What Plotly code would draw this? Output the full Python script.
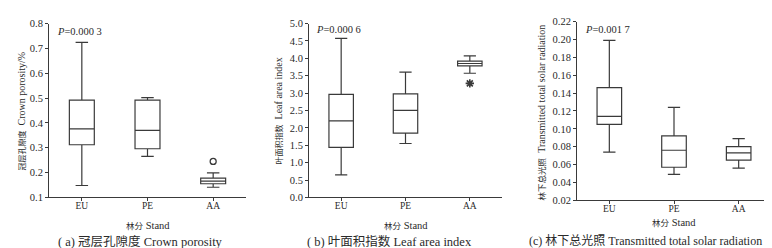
import plotly.graph_objects as go

W, H = 772, 248

stands = ["EU", "PE", "AA"]

# (a) crown porosity
cp_low = [0.148, 0.265, 0.141]
cp_q1 = [0.312, 0.296, 0.155]
cp_med = [0.376, 0.370, 0.166]
cp_q3 = [0.492, 0.492, 0.178]
cp_high = [0.724, 0.502, 0.199]
cp_out_x = ["AA"]
cp_out_y = [0.245]

# (b) leaf area index
lai_low = [0.65, 1.55, 3.57]
lai_q1 = [1.44, 1.85, 3.78]
lai_med = [2.20, 2.50, 3.85]
lai_q3 = [2.96, 2.98, 3.92]
lai_high = [4.57, 3.60, 4.07]
lai_out_x = ["AA"]
lai_out_y = [3.28]

# (c) transmitted total solar radiation
ts_low = [0.074, 0.049, 0.056]
ts_q1 = [0.105, 0.057, 0.065]
ts_med = [0.114, 0.076, 0.073]
ts_q3 = [0.146, 0.092, 0.080]
ts_high = [0.199, 0.124, 0.089]

FONT = "Liberation Serif, Noto Sans CJK SC, serif"
LINE = "#3a3a3a"
TXT = "#2a2a2a"

fig = go.Figure()


def px_x(p):
    return p / W


def px_y(p):
    return 1 - p / H


panels = [
    dict(n="", low=cp_low, q1=cp_q1, med=cp_med, q3=cp_q3, high=cp_high,
         x0=41, x1=238, ytop=11, ybot=193, rng=[0.1, 0.8], dtick=0.1, fmt=".1f"),
    dict(n="2", low=lai_low, q1=lai_q1, med=lai_med, q3=lai_q3, high=lai_high,
         x0=301, x1=494, ytop=11, ybot=193, rng=[0.0, 5.0], dtick=0.5, fmt=".1f"),
    dict(n="3", low=ts_low, q1=ts_q1, med=ts_med, q3=ts_q3, high=ts_high,
         x0=569, x1=763, ytop=9, ybot=196, rng=[0.02, 0.22], dtick=0.02, fmt=".2f"),
]

for p in panels:
    fig.add_trace(go.Box(
        x=stands, q1=p["q1"], median=p["med"], q3=p["q3"],
        lowerfence=p["low"], upperfence=p["high"],
        boxpoints=False, width=0.38, whiskerwidth=0.5,
        fillcolor="white", line=dict(color=LINE, width=1.2),
        xaxis="x" + p["n"], yaxis="y" + p["n"], showlegend=False,
    ))

fig.add_trace(go.Scatter(
    x=cp_out_x, y=cp_out_y, mode="markers", xaxis="x", yaxis="y",
    marker=dict(symbol="circle-open", size=6, color=LINE, line=dict(width=1.3)),
    showlegend=False))
fig.add_trace(go.Scatter(
    x=lai_out_x, y=lai_out_y, mode="markers", xaxis="x2", yaxis="y2",
    marker=dict(symbol="asterisk-open", size=7, color=LINE, line=dict(width=1.6, color=LINE)),
    showlegend=False))

layout = dict(
    width=W, height=H, margin=dict(l=0, r=0, t=0, b=0),
    paper_bgcolor="white", plot_bgcolor="white",
    font=dict(family=FONT, size=10, color=TXT),
    showlegend=False,
)

for p in panels:
    xa = "xaxis" + p["n"]
    ya = "yaxis" + p["n"]
    layout[xa] = dict(
        domain=[px_x(p["x0"]), px_x(p["x1"])], anchor="y" + p["n"],
        type="category", categoryorder="array", categoryarray=stands,
        range=[-0.5, 2.5], showline=True, linecolor=LINE, linewidth=1,
        ticks="outside", ticklen=3, tickcolor=LINE, showgrid=False, zeroline=False,
        tickfont=dict(size=9.5, color=TXT, family=FONT), ticklabelstandoff=-4,
    )
    layout[ya] = dict(
        domain=[px_y(p["ybot"]), px_y(p["ytop"])], anchor="x" + p["n"],
        range=p["rng"], dtick=p["dtick"], tick0=p["rng"][0], tickformat=p["fmt"],
        showline=True, linecolor=LINE, linewidth=1,
        ticks="outside", ticklen=3, tickcolor=LINE, showgrid=False, zeroline=False,
        tickfont=dict(size=10.5, color=TXT, family=FONT),
    )

fig.update_layout(**layout)

ann = []


def add_text(text, x, y, size, angle=0, xanchor="center"):
    ann.append(dict(text=text, x=px_x(x), y=px_y(y), xref="paper", yref="paper",
                    showarrow=False, textangle=angle, xanchor=xanchor, yanchor="middle",
                    font=dict(family=FONT, size=size, color=TXT)))


def mixed(cjk, latin, cjk_size):
    return f'<span style="font-size:{cjk_size}px">{cjk}</span>{latin}'


# P values
add_text("<i>P</i>=0.000 3", 47, 19, 10.5, xanchor="left")
add_text("<i>P</i>=0.000 6", 306, 17, 10.5, xanchor="left")
add_text("<i>P</i>=0.001 7", 575, 17, 10.5, xanchor="left")

# y titles
add_text(mixed("冠层孔隙度", "  Crown porosity/%", 8), 13, 103, 10, angle=-90)
add_text(mixed("叶面积指数", "  Leaf area index", 8), 270, 103, 10, angle=-90)
add_text(mixed("林下总光照", "  Transmitted total solar radiation", 8.5), 533, 104, 10, angle=-90)

# x titles
add_text(mixed("林分", " Stand", 8.5), 140, 222, 10.5)
add_text(mixed("林分", " Stand", 8.5), 398, 222, 10.5)
add_text(mixed("林分", " Stand", 8.5), 666, 219, 10.5)

# captions
add_text("( a) 冠层孔隙度 Crown porosity", 132, 239, 12.5)
add_text("( b) 叶面积指数 Leaf area index", 381, 239, 12.5)
add_text("(c) 林下总光照 Transmitted total solar radiation", 637, 239, 12)

fig.update_layout(annotations=ann)

fig.write_html("out.html")
